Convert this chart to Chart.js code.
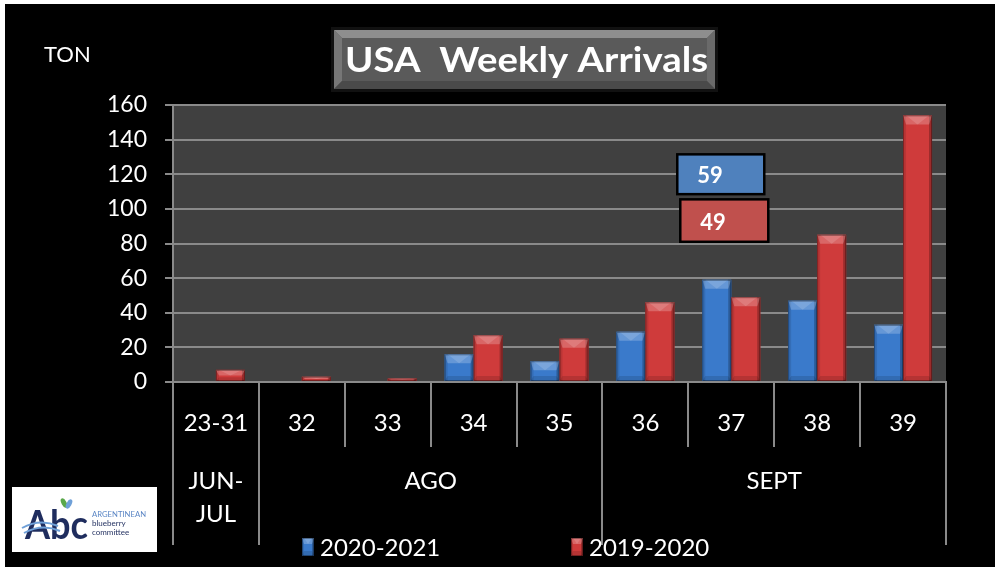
<!DOCTYPE html>
<html>
<head>
<meta charset="utf-8">
<script src="https://cdn.jsdelivr.net/npm/chart.js@4.4.1/dist/chart.umd.min.js"></script>
<style>
  html, body { margin: 0; padding: 0; background: #fff; }
  #wrap { width: 995px; height: 567px; position: relative; background: #fff; }
</style>
</head>
<body>
<div id="wrap"><canvas id="c" width="995" height="567"></canvas></div>
<script>
// ---------- data ----------
const chartTitle = 'USA  Weekly Arrivals';
const unitLabel = 'TON';
const weeks = ['23-31', '32', '33', '34', '35', '36', '37', '38', '39'];
const season2021 = [0, 0, 0, 16, 12, 29, 59, 47, 33];
const season1920 = [7, 3, 2, 27, 25, 46, 49, 85, 154];
const seriesNames = ['2020-2021', '2019-2020'];
const yMin = 0;
const yMax = 160;
const yStep = 20;
const monthLabels = [['JUN-', 'JUL'], ['AGO'], ['SEPT']];
const monthSpans = [[0, 0], [1, 4], [5, 8]];
const calloutWeek = '37';
const logoLines = ['ARGENTINEAN', 'blueberry', 'committee'];

// ---------- styles ----------
const FONT = 'Lato, "Open Sans", sans-serif';
const BLUE = '#3a7acb';
const RED = '#cf3b3b';
const GRID = '#8a8a8a';
const PLOT_BG = '#404040';

function poly(ctx, pts, fill) {
  ctx.beginPath();
  ctx.moveTo(pts[0][0], pts[0][1]);
  for (let i = 1; i < pts.length; i++) ctx.lineTo(pts[i][0], pts[i][1]);
  ctx.closePath();
  ctx.fillStyle = fill;
  ctx.fill();
}

function bevelBar(ctx, left, right, top, bottom, color) {
  const w = right - left, h = bottom - top;
  if (h < 0.5 || w < 0.5) return;
  ctx.save();
  ctx.fillStyle = color;
  ctx.fillRect(left, top, w, h);
  const d = Math.min(9, h / 2, w / 2);
  const s = Math.min(3, w / 6);
  // side strips
  ctx.fillStyle = 'rgba(0,0,0,0.10)';
  ctx.fillRect(left, top, s, h);
  ctx.fillStyle = 'rgba(0,0,0,0.25)';
  ctx.fillRect(right - s, top, s, h);
  // top light bevel (trapezoid) and brighter central V
  poly(ctx, [[left, top], [right, top], [right - s, top + d], [left + s, top + d]], 'rgba(255,255,255,0.22)');
  poly(ctx, [[left + s, top], [right - s, top], [left + w / 2, top + d]], 'rgba(255,255,255,0.14)');
  // bottom shade
  const db = Math.min(5, h / 3);
  poly(ctx, [[left, bottom], [right, bottom], [right - s, bottom - db], [left + s, bottom - db]], 'rgba(0,0,0,0.12)');
  ctx.strokeStyle = 'rgba(0,0,0,0.35)';
  ctx.lineWidth = 1;
  ctx.strokeRect(left + 0.5, top + 0.5, w - 1, h - 1);
  ctx.restore();
}

function fitText(ctx, text, x, y, width) {
  const m = ctx.measureText(text).width;
  ctx.save();
  ctx.translate(x, y);
  ctx.scale(width / m, 1);
  ctx.fillText(text, 0, 0);
  ctx.restore();
}

const decorPlugin = {
  id: 'decor',
  beforeDraw(chart) {
    const { ctx, chartArea: a } = chart;
    ctx.save();
    ctx.fillStyle = '#fff';
    ctx.fillRect(0, 0, chart.width, chart.height);
    ctx.fillStyle = '#000';
    ctx.fillRect(5, 4, chart.width - 5, chart.height - 4);
    ctx.fillStyle = PLOT_BG;
    ctx.fillRect(a.left, a.top, a.right - a.left, a.bottom - a.top);
    ctx.restore();
  },
  afterDatasetsDraw(chart) {
    const ctx = chart.ctx;
    chart.data.datasets.forEach((ds, di) => {
      const meta = chart.getDatasetMeta(di);
      meta.data.forEach(el => {
        const p = el.getProps(['x', 'y', 'base', 'width'], true);
        bevelBar(ctx, p.x - p.width / 2, p.x + p.width / 2, Math.min(p.y, p.base), Math.max(p.y, p.base), ds.backgroundColor);
      });
    });
  },
  afterDraw(chart) {
    const { ctx, chartArea: a, scales } = chart;
    const xs = scales.x, ys = scales.y;
    ctx.save();

    // ---- x axis separators ----
    const n = weeks.length;
    const bounds = [a.left];
    for (let i = 0; i < n - 1; i++) bounds.push((xs.getPixelForValue(i) + xs.getPixelForValue(i + 1)) / 2);
    bounds.push(a.right);
    const groupEdges = new Set([0, n]);
    monthSpans.forEach(s => { groupEdges.add(s[0]); groupEdges.add(s[1] + 1); });
    ctx.strokeStyle = GRID;
    ctx.lineWidth = 2;
    bounds.forEach((bx, i) => {
      ctx.beginPath();
      ctx.moveTo(Math.round(bx), a.bottom);
      ctx.lineTo(Math.round(bx), groupEdges.has(i) ? 545 : 447);
      ctx.stroke();
    });

    // ---- month group labels ----
    ctx.fillStyle = '#fff';
    ctx.font = '24px ' + FONT;
    ctx.textAlign = 'center';
    ctx.textBaseline = 'middle';
    monthSpans.forEach((s, gi) => {
      const cx = (xs.getPixelForValue(s[0]) + xs.getPixelForValue(s[1])) / 2;
      monthLabels[gi].forEach((t, li) => ctx.fillText(t, cx, 481 + li * 33));
    });

    // ---- legend ----
    const legendX = [302, 571];
    chart.data.datasets.forEach((ds, di) => {
      const lx = legendX[di];
      bevelBar(ctx, lx, lx + 12, 538, 556, ds.backgroundColor);
      ctx.fillStyle = '#fff';
      ctx.font = '24px ' + FONT;
      ctx.textAlign = 'left';
      ctx.textBaseline = 'middle';
      ctx.fillText(ds.label, lx + 18, 548);
    });

    // ---- unit label ----
    ctx.fillStyle = '#fff';
    ctx.font = '22px ' + FONT;
    ctx.textAlign = 'left';
    ctx.textBaseline = 'middle';
    ctx.fillText(unitLabel, 44, 55);

    // ---- title box ----
    const tx0 = 331, ty0 = 27, tx1 = 718, ty1 = 92;
    ctx.fillStyle = '#111';
    ctx.fillRect(tx0, ty0, tx1 - tx0, ty1 - ty0);
    const bx0 = tx0 + 3, by0 = ty0 + 3, bx1 = tx1 - 3, by1 = ty1 - 3, bd = 8;
    ctx.fillStyle = '#5a5a5a';
    ctx.fillRect(bx0, by0, bx1 - bx0, by1 - by0);
    poly(ctx, [[bx0, by0], [bx1, by0], [bx1 - bd, by0 + bd], [bx0 + bd, by0 + bd]], '#8e8e8e');
    poly(ctx, [[bx0, by0], [bx0 + bd, by0 + bd], [bx0 + bd, by1 - bd], [bx0, by1]], '#777');
    poly(ctx, [[bx1, by0], [bx1 - bd, by0 + bd], [bx1 - bd, by1 - bd], [bx1, by1]], '#6a6a6a');
    poly(ctx, [[bx0, by1], [bx1, by1], [bx1 - bd, by1 - bd], [bx0 + bd, by1 - bd]], '#4a4a4a');
    ctx.fillStyle = '#fff';
    ctx.font = 'bold 35px ' + FONT;
    ctx.textAlign = 'left';
    ctx.textBaseline = 'middle';
    fitText(ctx, chartTitle, 345, 61, 363);

    // ---- callouts for the highlighted week ----
    const ci = weeks.indexOf(calloutWeek);
    const cx = xs.getPixelForValue(ci);
    const boxes = [
      { di: 0, l: cx - 54, r: cx + 33, t: ys.getPixelForValue(131.5), b: ys.getPixelForValue(108.5), fill: '#4f81bd', tx: cx - 34 },
      { di: 1, l: cx - 51, r: cx + 37, t: ys.getPixelForValue(105.5), b: ys.getPixelForValue(81), fill: '#c0504d', tx: cx - 31 }
    ];
    boxes.forEach(bx => {
      ctx.fillStyle = bx.fill;
      ctx.fillRect(bx.l, bx.t, bx.r - bx.l, bx.b - bx.t);
      ctx.strokeStyle = '#000';
      ctx.lineWidth = 2.5;
      ctx.strokeRect(bx.l, bx.t, bx.r - bx.l, bx.b - bx.t);
      ctx.fillStyle = '#fff';
      ctx.font = 'bold 22px ' + FONT;
      ctx.textAlign = 'left';
      ctx.textBaseline = 'middle';
      ctx.fillText(String(chart.data.datasets[bx.di].data[ci]), bx.tx, (bx.t + bx.b) / 2 + 2);
    });

    // ---- logo ----
    ctx.fillStyle = '#fff';
    ctx.fillRect(12, 487, 145, 65);
    ctx.fillStyle = '#1f2d5e';
    ctx.font = 'bold 40px ' + FONT;
    ctx.textAlign = 'left';
    ctx.textBaseline = 'alphabetic';
    fitText(ctx, 'Abc', 25, 539, 63);
    ctx.strokeStyle = '#6fa0d8';
    ctx.lineWidth = 2;
    ctx.beginPath();
    ctx.moveTo(22, 528); ctx.quadraticCurveTo(40, 518, 58, 526); ctx.stroke();
    ctx.beginPath();
    ctx.moveTo(24, 533); ctx.quadraticCurveTo(42, 523, 60, 531); ctx.stroke();
    ctx.fillStyle = '#5aa84a';
    ctx.beginPath(); ctx.ellipse(64, 503, 2.5, 5, -0.5, 0, Math.PI * 2); ctx.fill();
    ctx.fillStyle = '#6fa0d8';
    ctx.beginPath(); ctx.ellipse(69, 504, 2.5, 5, 0.5, 0, Math.PI * 2); ctx.fill();
    ctx.font = '8px ' + FONT;
    ctx.fillStyle = '#5b86c5';
    fitText(ctx, logoLines[0], 92, 517, 54);
    ctx.fillStyle = '#1f2d5e';
    ctx.fillText(logoLines[1], 92, 526);
    ctx.fillText(logoLines[2], 92, 535);

    ctx.restore();
  }
};

new Chart(document.getElementById('c'), {
  type: 'bar',
  data: {
    labels: weeks,
    datasets: [
      { label: seriesNames[0], data: season2021, backgroundColor: BLUE, borderWidth: 0 },
      { label: seriesNames[1], data: season1920, backgroundColor: RED, borderWidth: 0 }
    ]
  },
  options: {
    responsive: false,
    animation: false,
    devicePixelRatio: 1,
    layout: { padding: { top: 105, right: 49, left: 0, bottom: 0 } },
    datasets: { bar: { categoryPercentage: 0.675, barPercentage: 1.0 } },
    plugins: { legend: { display: false }, tooltip: { enabled: false }, title: { display: false } },
    scales: {
      x: {
        afterFit: s => { s.height = 185; },
        grid: { display: false },
        border: { display: true, color: GRID, width: 2 },
        ticks: { color: '#fff', font: { family: FONT, size: 24 }, padding: 19, maxRotation: 0, autoSkip: false }
      },
      y: {
        min: yMin, max: yMax,
        afterFit: s => { s.width = 173; },
        grid: { color: GRID, lineWidth: 2, tickLength: 8, drawTicks: true },
        border: { display: true, color: GRID, width: 2 },
        ticks: { stepSize: yStep, color: '#fff', font: { family: FONT, size: 23 }, padding: 18 }
      }
    }
  },
  plugins: [decorPlugin]
});
</script>
</body>
</html>
